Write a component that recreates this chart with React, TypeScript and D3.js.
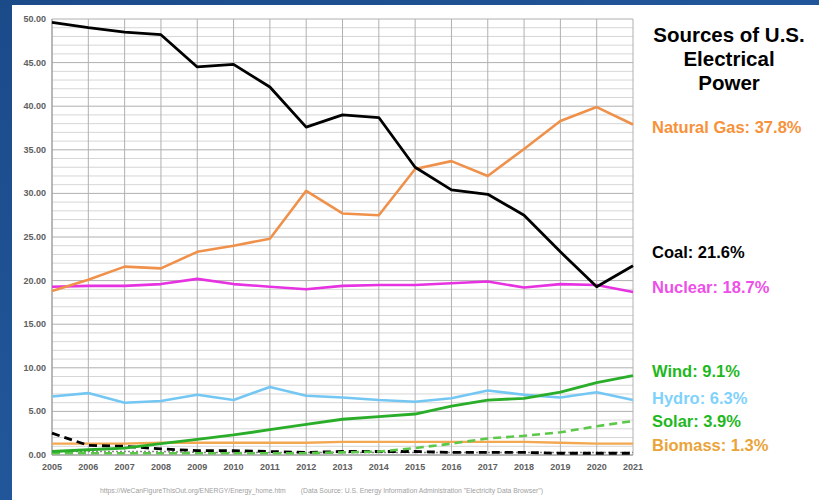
import React from "react";
import * as d3 from "d3";

const years = [2005,2006,2007,2008,2009,2010,2011,2012,2013,2014,2015,2016,2017,2018,2019,2020,2021];
const coal = [49.6,49.0,48.5,48.2,44.5,44.8,42.2,37.6,39.0,38.7,33.0,30.4,29.9,27.5,23.3,19.3,21.7];
const naturalGas = [18.8,20.1,21.6,21.4,23.3,24.0,24.8,30.3,27.7,27.5,32.8,33.7,32.0,35.1,38.3,39.9,37.9];
const nuclear = [19.3,19.4,19.4,19.6,20.2,19.6,19.3,19.0,19.4,19.5,19.5,19.7,19.9,19.2,19.6,19.5,18.7];
const hydro = [6.7,7.1,6.0,6.2,6.9,6.3,7.8,6.8,6.6,6.3,6.1,6.5,7.4,6.9,6.6,7.2,6.3];
const wind = [0.4,0.6,0.8,1.3,1.8,2.3,2.9,3.5,4.1,4.4,4.7,5.6,6.3,6.5,7.2,8.3,9.1];
const solar = [0.2,0.2,0.2,0.2,0.2,0.2,0.2,0.2,0.3,0.4,0.8,1.3,1.9,2.2,2.6,3.3,3.9];
const biomass = [1.3,1.3,1.3,1.4,1.4,1.4,1.4,1.4,1.5,1.5,1.5,1.5,1.5,1.5,1.4,1.3,1.3];
const petroleum = [2.5,1.1,1.0,0.7,0.5,0.5,0.4,0.3,0.4,0.4,0.4,0.3,0.3,0.3,0.2,0.2,0.2];
const otherGas = [0.4,0.4,0.4,0.4,0.3,0.3,0.3,0.3,0.3,0.3,0.3,0.3,0.3,0.3,0.3,0.3,0.3];
const yTicks = [0,5,10,15,20,25,30,35,40,45,50];

const labels = [
  { text: "Natural Gas: 37.8%", color: "#f7923a", y: 133 },
  { text: "Coal: 21.6%", color: "#000000", y: 258 },
  { text: "Nuclear: 18.7%", color: "#ee4fe8", y: 293 },
  { text: "Wind: 9.1%", color: "#1fb81f", y: 377 },
  { text: "Hydro: 6.3%", color: "#7fd2fb", y: 404 },
  { text: "Solar: 3.9%", color: "#1fb81f", y: 427 },
  { text: "Biomass: 1.3%", color: "#eaa43a", y: 451 },
];

export default function App() {
  const W = 819, H = 500;
  const x = d3.scaleLinear().domain([2005, 2021]).range([52, 633]);
  const y = d3.scaleLinear().domain([0, 50]).range([455, 19]);
  const line = d3.line<number>().x((_, i) => x(years[i])).y((d) => y(d));
  const minor = d3.range(0, 51, 1);

  const series = [
    { data: biomass, color: "#f2a750", width: 2.4, dash: undefined as string | undefined },
    { data: otherGas, color: "#888", width: 1.5, dash: "2,2" },
    { data: petroleum, color: "#000", width: 2.8, dash: "8,5" },
    { data: solar, color: "#5cc84a", width: 2.6, dash: "8,5" },
    { data: hydro, color: "#74c7f3", width: 2.6 },
    { data: wind, color: "#2aae2a", width: 2.8 },
    { data: nuclear, color: "#e632e0", width: 2.6 },
    { data: naturalGas, color: "#ef914a", width: 2.6 },
    { data: coal, color: "#000", width: 2.8 },
  ];

  return (
    <svg width={W} height={H} style={{ position: "absolute", left: 0, top: 0 }}>
      <defs>
        <linearGradient id="bg" x1="0" y1="0" x2="1" y2="1">
          <stop offset="0" stopColor="#1b4a89" />
          <stop offset="0.5" stopColor="#21579a" />
          <stop offset="1" stopColor="#184282" />
        </linearGradient>
      </defs>
      <rect x={0} y={0} width={W} height={H} fill="url(#bg)" />
      <rect x={12} y={5} width={W - 12} height={H - 5} fill="#ffffff" />

      {minor.map((v) => (
        <line key={"m" + v} x1={52} x2={633} y1={y(v)} y2={y(v)}
          stroke={v % 5 === 0 ? "#b0b0b0" : "#d6d6d6"} strokeWidth={1} />
      ))}
      {years.map((yr) => (
        <line key={"v" + yr} x1={x(yr)} x2={x(yr)} y1={y(50)} y2={y(0)} stroke="#b0b0b0" strokeWidth={1} />
      ))}
      <line x1={52} x2={52} y1={y(50)} y2={y(0)} stroke="#999" />
      <line x1={52} x2={633} y1={y(0)} y2={y(0)} stroke="#999" />

      {yTicks.map((t) => (
        <text key={"yt" + t} x={46} y={y(t) + 3} textAnchor="end" fontSize={9}
          fontFamily="Liberation Sans, Arial, sans-serif" fontWeight="bold" fill="#606060">
          {t.toFixed(2)}
        </text>
      ))}
      {years.map((yr) => (
        <text key={"xt" + yr} x={x(yr)} y={470} textAnchor="middle" fontSize={9}
          fontFamily="Liberation Sans, Arial, sans-serif" fontWeight="bold" fill="#606060">
          {yr}
        </text>
      ))}

      {series.map((s, i) => (
        <path key={"s" + i} d={line(s.data) || ""} fill="none" stroke={s.color}
          strokeWidth={s.width} strokeDasharray={s.dash} strokeLinejoin="round" />
      ))}

      <text x={100} y={493} fontSize={6.8} fill="#a0a0a0" fontFamily="Liberation Sans, Arial, sans-serif" xmlSpace="preserve">
        https://WeCanFigureThisOut.org/ENERGY/Energy_home.htm        (Data Source: U.S. Energy Information Administration "Electricity Data Browser")
      </text>

      <g fontFamily="Liberation Sans, Arial, sans-serif" fontWeight="bold" fontSize={20.5} fill="#000" textAnchor="middle">
        <text x={729} y={42}>Sources of U.S.</text>
        <text x={729} y={66}>Electrical</text>
        <text x={729} y={90}>Power</text>
      </g>
      {labels.map((l) => (
        <text key={l.text} x={652} y={l.y} fontSize={16.5} fontWeight="bold"
          fontFamily="Liberation Sans, Arial, sans-serif" fill={l.color}>
          {l.text}
        </text>
      ))}
    </svg>
  );
}
